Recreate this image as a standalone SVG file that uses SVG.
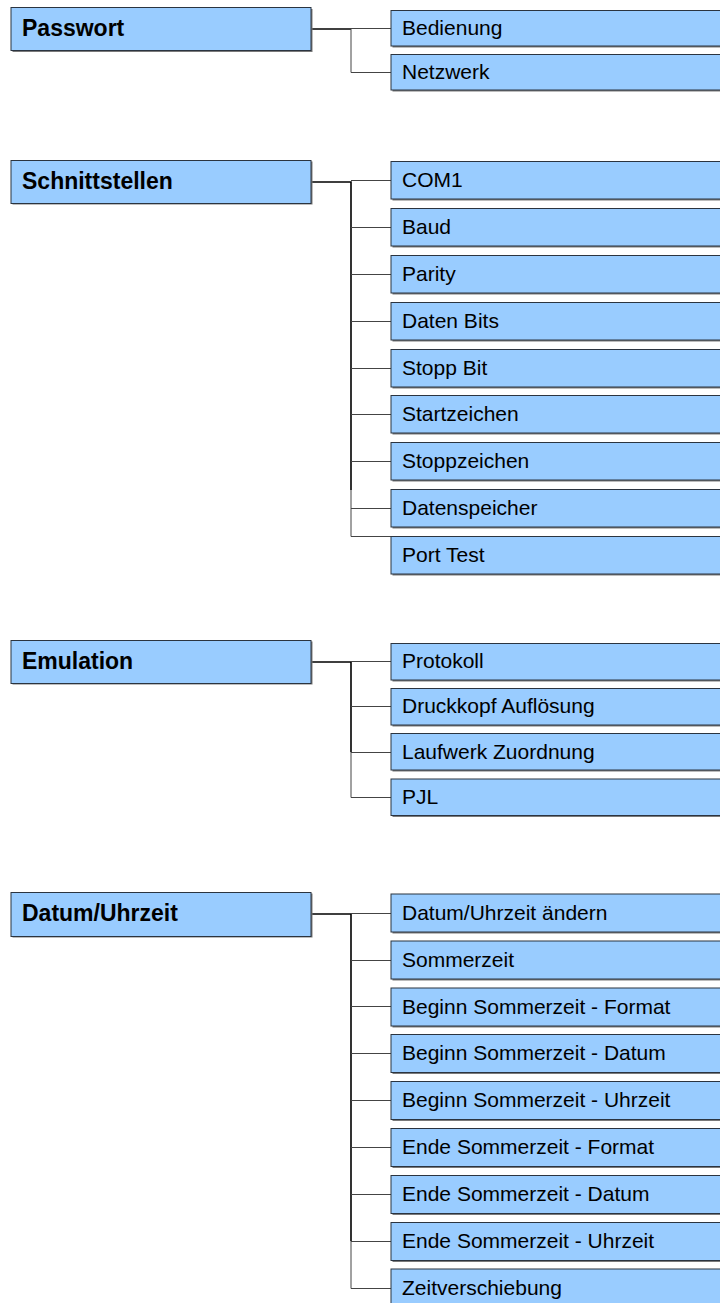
<svg xmlns="http://www.w3.org/2000/svg" width="720" height="1303" viewBox="0 0 720 1303">
<style>
.box{fill:#99ccff;stroke:#2b3440;stroke-width:1}
.sh{fill:#7a7a7a}
.pt{font-family:"Liberation Sans",Arial,sans-serif;font-weight:bold;font-size:23px;fill:#000}
.ct{font-family:"Liberation Sans",Arial,sans-serif;font-size:21px;fill:#000}
.stub{stroke:#000;stroke-width:1.6;fill:none}
.br{stroke:#444;stroke-width:1;fill:none}
</style>
<rect width="720" height="1303" fill="#fff"/>
<g id="connectors">
<path class="stub" d="M311 29H351"/>
<path class="br" d="M351 29V72.5M351 28.5H391M351 72.5H391"/>
<path class="stub" d="M311 182H351V490"/>
<path class="br" d="M351 490V536.5H391M351 180.5H391M351 227.5H391M351 274.5H391M351 321.5H391M351 368.5H391M351 414.5H391M351 461.5H391M351 508.5H391"/>
<path class="stub" d="M311 662H351V752"/>
<path class="br" d="M351 752V797.5H391M351 661.5H391M351 706.5H391M351 752.5H391"/>
<path class="stub" d="M311 914H351V1241"/>
<path class="br" d="M351 1241V1288.5H391M351 913.5H391M351 960.5H391M351 1006.5H391M351 1053.5H391M351 1100.5H391M351 1147.5H391M351 1194.5H391M351 1241.5H391"/>
</g>
<g id="passwort"><rect class="sh" x="12.5" y="9" width="300" height="43"/><rect class="box" x="11" y="7.5" width="300" height="43"/><text class="pt" x="22" y="35.5">Passwort</text></g>
<g id="bedienung"><rect class="sh" x="392.5" y="12" width="340" height="35.5"/><rect class="box" x="391" y="10.5" width="340" height="35.5"/><text class="ct" x="402" y="35">Bedienung</text></g>
<g id="netzwerk"><rect class="sh" x="392.5" y="56" width="340" height="35.5"/><rect class="box" x="391" y="54.5" width="340" height="35.5"/><text class="ct" x="402" y="79">Netzwerk</text></g>

<g id="schnittstellen"><rect class="sh" x="12.5" y="161.5" width="300" height="43"/><rect class="box" x="11" y="160.5" width="300" height="43"/><text class="pt" x="22" y="188.5">Schnittstellen</text></g>
<g id="com1"><rect class="sh" x="392.5" y="163" width="340" height="37.5"/><rect class="box" x="391" y="161.5" width="340" height="37.5"/><text class="ct" x="402" y="187">COM1</text></g>
<g id="baud"><rect class="sh" x="392.5" y="210" width="340" height="37.5"/><rect class="box" x="391" y="208.5" width="340" height="37.5"/><text class="ct" x="402" y="234">Baud</text></g>
<g id="parity"><rect class="sh" x="392.5" y="257" width="340" height="37.5"/><rect class="box" x="391" y="255.5" width="340" height="37.5"/><text class="ct" x="402" y="281">Parity</text></g>
<g id="datenbits"><rect class="sh" x="392.5" y="304" width="340" height="37.5"/><rect class="box" x="391" y="302.5" width="340" height="37.5"/><text class="ct" x="402" y="328">Daten Bits</text></g>
<g id="stoppbit"><rect class="sh" x="392.5" y="351" width="340" height="37.5"/><rect class="box" x="391" y="349.5" width="340" height="37.5"/><text class="ct" x="402" y="375">Stopp Bit</text></g>
<g id="startzeichen"><rect class="sh" x="392.5" y="397" width="340" height="37.5"/><rect class="box" x="391" y="395.5" width="340" height="37.5"/><text class="ct" x="402" y="421">Startzeichen</text></g>
<g id="stoppzeichen"><rect class="sh" x="392.5" y="444" width="340" height="37.5"/><rect class="box" x="391" y="442.5" width="340" height="37.5"/><text class="ct" x="402" y="468">Stoppzeichen</text></g>
<g id="datenspeicher"><rect class="sh" x="392.5" y="491" width="340" height="37.5"/><rect class="box" x="391" y="489.5" width="340" height="37.5"/><text class="ct" x="402" y="515">Datenspeicher</text></g>
<g id="porttest"><rect class="sh" x="392.5" y="538" width="340" height="37.5"/><rect class="box" x="391" y="536.5" width="340" height="37.5"/><text class="ct" x="402" y="562">Port Test</text></g>

<g id="emulation"><rect class="sh" x="12.5" y="641.5" width="300" height="43"/><rect class="box" x="11" y="640.5" width="300" height="43"/><text class="pt" x="22" y="668.5">Emulation</text></g>
<g id="protokoll"><rect class="sh" x="392.5" y="645" width="340" height="36.5"/><rect class="box" x="391" y="643.5" width="340" height="36.5"/><text class="ct" x="402" y="668">Protokoll</text></g>
<g id="druckkopf"><rect class="sh" x="392.5" y="690" width="340" height="36.5"/><rect class="box" x="391" y="688.5" width="340" height="36.5"/><text class="ct" x="402" y="713">Druckkopf Auflösung</text></g>
<g id="laufwerk"><rect class="sh" x="392.5" y="735" width="340" height="36.5"/><rect class="box" x="391" y="733.5" width="340" height="36.5"/><text class="ct" x="402" y="758.5">Laufwerk Zuordnung</text></g>
<g id="pjl"><rect class="sh" x="392.5" y="780.5" width="340" height="36.5"/><rect class="box" x="391" y="779" width="340" height="36.5"/><text class="ct" x="402" y="803.5">PJL</text></g>

<g id="datum"><rect class="sh" x="12.5" y="893.5" width="300" height="44"/><rect class="box" x="11" y="892.5" width="300" height="44"/><text class="pt" x="22" y="920.5">Datum/Uhrzeit</text></g>
<g id="datumaendern"><rect class="sh" x="392.5" y="895.5" width="340" height="38"/><rect class="box" x="391" y="894" width="340" height="38"/><text class="ct" x="402" y="919.5">Datum/Uhrzeit ändern</text></g>
<g id="sommerzeit"><rect class="sh" x="392.5" y="942.5" width="340" height="38"/><rect class="box" x="391" y="941" width="340" height="38"/><text class="ct" x="402" y="966.5">Sommerzeit</text></g>
<g id="bsformat"><rect class="sh" x="392.5" y="989.5" width="340" height="38"/><rect class="box" x="391" y="988" width="340" height="38"/><text class="ct" x="402" y="1013.5">Beginn Sommerzeit - Format</text></g>
<g id="bsdatum"><rect class="sh" x="392.5" y="1036" width="340" height="38"/><rect class="box" x="391" y="1034.5" width="340" height="38"/><text class="ct" x="402" y="1060">Beginn Sommerzeit - Datum</text></g>
<g id="bsuhrzeit"><rect class="sh" x="392.5" y="1083" width="340" height="38"/><rect class="box" x="391" y="1081.5" width="340" height="38"/><text class="ct" x="402" y="1107">Beginn Sommerzeit - Uhrzeit</text></g>
<g id="esformat"><rect class="sh" x="392.5" y="1130" width="340" height="38"/><rect class="box" x="391" y="1128.5" width="340" height="38"/><text class="ct" x="402" y="1154">Ende Sommerzeit - Format</text></g>
<g id="esdatum"><rect class="sh" x="392.5" y="1177" width="340" height="38"/><rect class="box" x="391" y="1175.5" width="340" height="38"/><text class="ct" x="402" y="1201">Ende Sommerzeit - Datum</text></g>
<g id="esuhrzeit"><rect class="sh" x="392.5" y="1224" width="340" height="38"/><rect class="box" x="391" y="1222.5" width="340" height="38"/><text class="ct" x="402" y="1248">Ende Sommerzeit - Uhrzeit</text></g>
<g id="zeitverschiebung"><rect class="sh" x="392.5" y="1270.5" width="340" height="38"/><rect class="box" x="391" y="1269" width="340" height="38"/><text class="ct" x="402" y="1295">Zeitverschiebung</text></g>
</svg>
